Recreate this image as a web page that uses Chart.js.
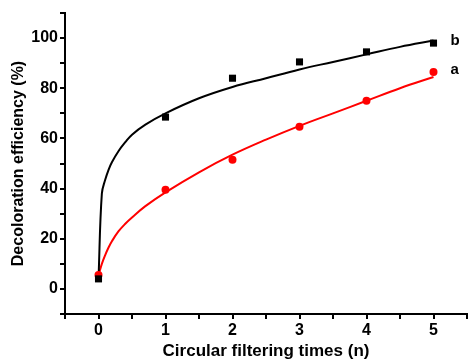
<!DOCTYPE html>
<html>
<head>
<meta charset="utf-8">
<script src="https://cdn.jsdelivr.net/npm/chart.js@4"></script>
<style>
  html, body { margin: 0; padding: 0; background: #fff; }
  #wrap { width: 472px; height: 362px; }
</style>
</head>
<body>
<div id="wrap"><canvas id="myChart"></canvas></div>
<script>
// measured points (circular filtering times n)
const cycles = [0, 1, 2, 3, 4, 5];
const effB = [4, 68.5, 84, 90.5, 94.5, 98];   // black squares, curve b
const effA = [5.5, 39.5, 51.5, 64.7, 75, 86.5]; // red circles, curve a

// fitted curves
const fitX = [0, 0.05, 0.1, 0.15, 0.2, 0.3, 0.4, 0.5, 0.7, 1, 1.5, 2, 2.5, 3, 3.5, 4, 4.5, 5];
const fitB = [4, 38, 43.5, 47.5, 50.5, 55, 58.5, 61.5, 65.5, 70, 76, 80.5, 84, 87.5, 90.5, 93.5, 96.5, 99];
const fitA = [5.5, 10, 13.5, 16.5, 19, 23, 26, 28.5, 33, 38.5, 46.5, 53.5, 59.5, 65, 70, 75, 80, 84.5];

const curveLabels = ['b', 'a'];

const FONT = "'Liberation Sans', Arial, sans-serif";

function pairs(xs, ys) {
    return xs.map((x, i) => ({ x: x, y: ys[i] }));
}

// writes the "a" / "b" tags to the right of the last points
const tagPlugin = {
    id: 'tags',
    afterDatasetsDraw(chart) {
        const ctx = chart.ctx;
        const xs = chart.scales.x, ys = chart.scales.y;
        const last = cycles.length - 1;
        const ends = [effB[last], effA[last]];
        ctx.save();
        ctx.font = "bold 15px " + FONT;
        ctx.fillStyle = '#000';
        ctx.textBaseline = 'middle';
        curveLabels.forEach((t, i) => {
            ctx.fillText(t, xs.getPixelForValue(cycles[last]) + 17, ys.getPixelForValue(ends[i]) - 2);
        });
        ctx.restore();
    }
};

const ctx = document.getElementById('myChart').getContext('2d');

new Chart(ctx, {
    type: 'scatter',
    data: {
        datasets: [
            {
                data: pairs(cycles, effB),
                pointStyle: 'rect',
                pointRadius: 5,
                backgroundColor: '#000',
                borderColor: '#000',
                borderWidth: 0,
                order: 0
            },
            {
                data: pairs(cycles, effA),
                pointStyle: 'circle',
                pointRadius: 4,
                backgroundColor: '#ff0000',
                borderColor: '#ff0000',
                borderWidth: 0,
                order: 0
            },
            {
                type: 'line',
                data: pairs(fitX, fitB),
                borderColor: '#000',
                borderWidth: 2,
                pointRadius: 0,
                tension: 0.4,
                fill: false,
                order: 1
            },
            {
                type: 'line',
                data: pairs(fitX, fitA),
                borderColor: '#ff0000',
                borderWidth: 2,
                pointRadius: 0,
                tension: 0.4,
                fill: false,
                order: 1
            }
        ]
    },
    options: {
        responsive: true,
        maintainAspectRatio: false,
        animation: false,
        layout: { padding: { top: 13, right: 0, left: 0, bottom: 0 } },
        plugins: {
            legend: { display: false },
            tooltip: { enabled: false }
        },
        scales: {
            x: {
                type: 'linear',
                min: -0.5,
                max: 5.5,
                border: { color: '#000', width: 2 },
                grid: { drawOnChartArea: false, drawTicks: true, tickLength: 5, color: '#000', lineWidth: 2 },
                ticks: {
                    stepSize: 0.5,
                    color: '#000',
                    padding: 2,
                    maxRotation: 0,
                    autoSkip: false,
                    font: { family: FONT, size: 16, weight: 'bold' },
                    callback: v => Number.isInteger(v) && v >= 0 && v <= 5 ? v : ''
                },
                title: {
                    display: true,
                    text: 'Circular filtering times (n)',
                    color: '#000',
                    padding: { top: 0, bottom: 0 },
                    font: { family: FONT, size: 17, weight: 'bold' }
                },
                afterFit: s => { s.height = 48; }
            },
            y: {
                min: -10,
                max: 110,
                border: { color: '#000', width: 2 },
                grid: { drawOnChartArea: false, drawTicks: true, tickLength: 5, color: '#000', lineWidth: 2 },
                ticks: {
                    stepSize: 10,
                    color: '#000',
                    padding: 2,
                    autoSkip: false,
                    font: { family: FONT, size: 16, weight: 'bold' },
                    callback: v => v >= 0 && v <= 100 && v % 20 === 0 ? v : ''
                },
                title: {
                    display: true,
                    text: 'Decoloration efficiency (%)',
                    color: '#000',
                    padding: { top: 9, bottom: 0 },
                    font: { family: FONT, size: 16, weight: 'bold' }
                },
                afterFit: s => { s.width = 65; }
            }
        }
    },
    plugins: [tagPlugin]
});
</script>
</body>
</html>
